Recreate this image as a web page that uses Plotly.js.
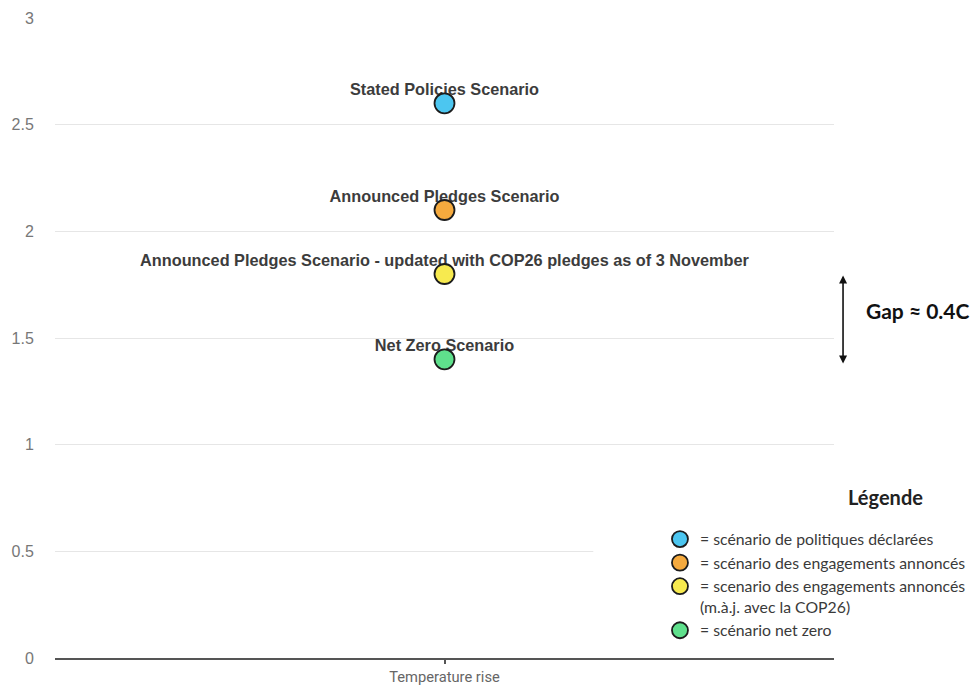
<!DOCTYPE html>
<html>
<head>
<meta charset="utf-8">
<script src="https://cdn.plot.ly/plotly-3.0.1.min.js"></script>
<style>html,body{margin:0;padding:0;background:#fff;}#chart{width:973px;height:686px;}</style>
</head>
<body>
<div id="chart"></div>
<script>
// ---- data ----
const categories = ['Temperature rise'];
const scenarioNames = [
  'Stated Policies Scenario',
  'Announced Pledges Scenario',
  'Announced Pledges Scenario - updated with COP26 pledges as of 3 November',
  'Net Zero Scenario'
];
const temperatureRise = [2.6, 2.1, 1.8, 1.4];
const legendLabels = [
  '= scénario de politiques déclarées',
  '= scénario des engagements annoncés',
  '= scenario des engagements annoncés<br>(m.à.j. avec la COP26)',
  '= scénario net zero'
];
const markerColors = ['#4cc6f0', '#f5aa3e', '#f7ea4f', '#5fe08c'];
const yTicks = [0, 0.5, 1, 1.5, 2, 2.5, 3];
const gapText = 'Gap ≈ 0.4C';
const legendTitle = 'Légende';

// ---- traces ----
const traces = [];
// labels first (so markers draw on top of them)
scenarioNames.forEach((name, i) => {
  traces.push({
    type: 'scatter', mode: 'markers+text',
    x: [categories[0]], y: [temperatureRise[i]],
    text: [name], textposition: 'top center',
    textfont: {family: 'Liberation Sans, Arial, sans-serif', size: 16.3, color: '#3c3c3c', weight: 'bold'},
    marker: {size: 5, color: 'rgba(0,0,0,0)', line: {width: 0}},
    showlegend: false, hoverinfo: 'skip', cliponaxis: false
  });
});
scenarioNames.forEach((name, i) => {
  traces.push({
    type: 'scatter', mode: 'markers',
    x: [categories[0]], y: [temperatureRise[i]],
    name: legendLabels[i], legendgroup: 'g' + i,
    marker: {size: 20, color: markerColors[i], line: {color: '#1c1c1c', width: 1.8}},
    cliponaxis: false,
    hovertemplate: name + ': %{y}<extra></extra>'
  });
});

const layout = {
  width: 973, height: 686,
  margin: {l: 55, r: 139, t: 18, b: 28, autoexpand: false},
  paper_bgcolor: '#fff', plot_bgcolor: '#fff',
  font: {family: 'Liberation Sans, Arial, sans-serif'},
  xaxis: {
    type: 'category', range: [-0.5, 0.5],
    showgrid: false, zeroline: false,
    showline: true, linecolor: '#555', linewidth: 2,
    ticks: 'outside', ticklen: 4, tickwidth: 2, tickcolor: '#555',
    tickfont: {family: 'Roboto, Liberation Sans, sans-serif', size: 14.7, color: '#666'},
    fixedrange: true
  },
  yaxis: {
    range: [0, 3], tickvals: yTicks, ticktext: yTicks.map(String),
    showgrid: true, gridcolor: '#e6e6e6', gridwidth: 1,
    zeroline: false, showline: false,
    ticks: 'outside', ticklen: 17, tickcolor: 'rgba(0,0,0,0)',
    tickfont: {family: 'Liberation Sans, Arial, sans-serif', size: 16, color: '#777'},
    fixedrange: true
  },
  showlegend: true,
  legend: {
    x: 0.7766, xanchor: 'left', y: 0.212, yanchor: 'top',
    bgcolor: 'rgba(255,255,255,0)', borderwidth: 0,
    font: {family: 'Lato, Carlito, sans-serif', size: 15.8, color: '#3a3a3a'},
    traceorder: 'normal', valign: 'top', itemwidth: 30
  },
  shapes: [
    {type: 'rect', xref: 'x domain', yref: 'y', x0: 0.691, x1: 1.01, y0: 0.4, y1: 0.62,
     fillcolor: '#fff', line: {width: 0}, layer: 'above'}
  ],
  annotations: [
    {xref: 'paper', yref: 'y', x: 1.0116, y: 1.38, axref: 'pixel', ayref: 'y', ax: 0, ay: 1.8,
     text: '', showarrow: true, arrowhead: 2, arrowside: 'end+start', arrowsize: 1, arrowwidth: 1.6,
     arrowcolor: '#111', standoff: 0, startstandoff: 0},
    {xref: 'paper', yref: 'y', x: 1.0385, y: 1.63, xanchor: 'left', yanchor: 'middle',
     text: '<b>' + gapText + '</b>', showarrow: false,
     font: {family: 'Lato, Carlito, sans-serif', size: 21, color: '#111'}},
    {xref: 'paper', yref: 'paper', x: 1.0667, y: 0.252, xanchor: 'center', yanchor: 'middle',
     text: '<b>' + legendTitle + '</b>', showarrow: false,
     font: {family: 'Lato, Carlito, sans-serif', size: 20, color: '#222'}}
  ]
};

Plotly.newPlot('chart', traces, layout, {displayModeBar: false, staticPlot: false});
</script>
</body>
</html>
